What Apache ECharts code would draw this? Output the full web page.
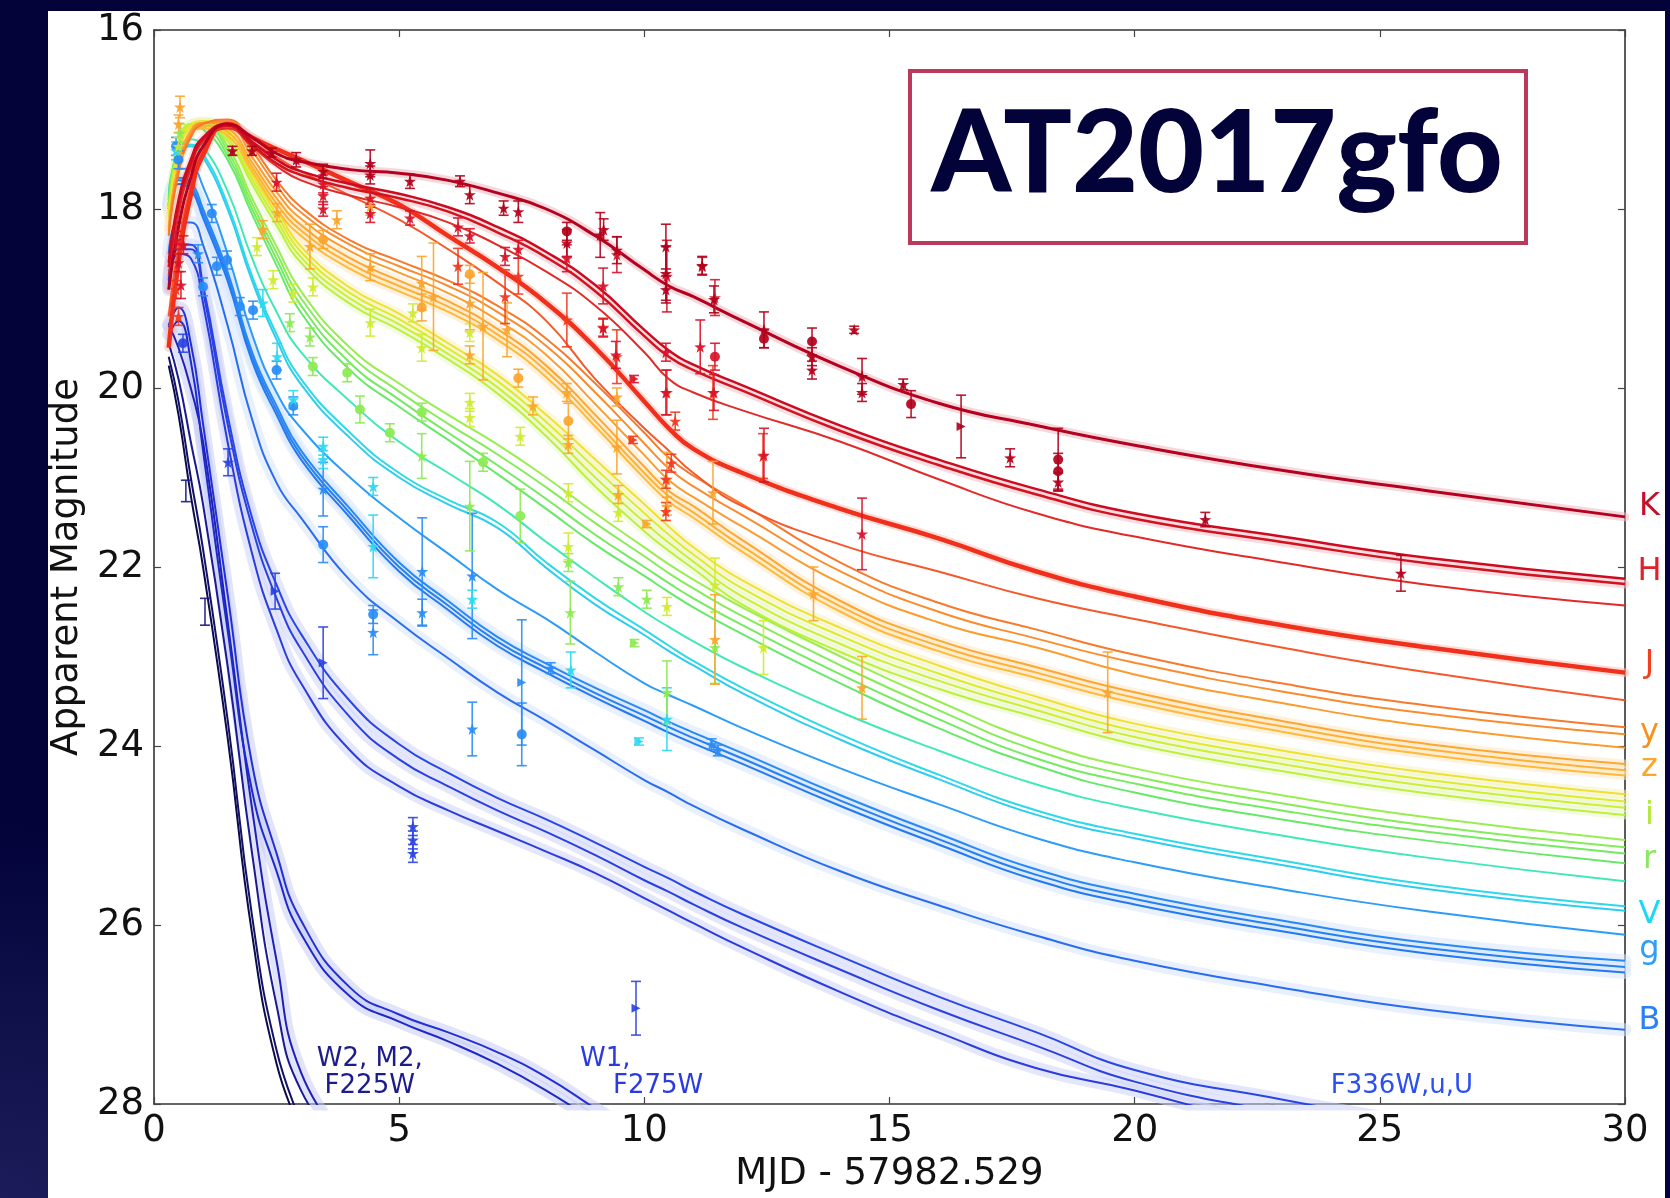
<!DOCTYPE html>
<html><head><meta charset="utf-8">
<script src="https://cdn.jsdelivr.net/npm/echarts/dist/echarts.min.js"></script>
<style>
html,body{margin:0;padding:0;width:1670px;height:1198px;overflow:hidden;background:#03033a;}
#glow{position:absolute;left:0;top:0;width:1670px;height:1198px;background:radial-gradient(ellipse at 0% 100%, #1c1c5a 0%, rgba(3,3,58,0) 22%);}
#panel{position:absolute;left:48px;top:11px;width:1617px;height:1187px;background:#fff;}
#chart{position:absolute;left:0;top:0;width:1670px;height:1198px;}
</style></head><body>
<div id="glow"></div><div id="panel"></div><div id="chart"></div>
<script>
// ---------- time grid (days) ----------
const T = [0.3,0.5,0.75,1,1.5,2,2.5,3,4,5,6,7,8,9,10,10.5,11,12,14,16,18,20,23,26,30];
// ---------- model light curves (apparent magnitude at each T) ----------
const modelK  = [18.9,18.2,17.65,17.3,17.05,17.2,17.38,17.47,17.56,17.6,17.68,17.82,18.0,18.3,18.68,18.86,18.98,19.25,19.76,20.17,20.42,20.64,20.92,21.15,21.44];
const modelH1 = [18.6,17.9,17.45,17.2,17.05,17.25,17.45,17.58,17.72,17.83,17.98,18.2,18.48,18.85,19.35,19.58,19.74,19.97,20.42,20.8,21.13,21.4,21.66,21.9,22.13];
const modelH2 = [18.65,17.95,17.5,17.22,17.07,17.28,17.49,17.62,17.77,17.88,18.03,18.26,18.54,18.92,19.42,19.65,19.8,20.03,20.48,20.86,21.19,21.46,21.72,21.96,22.19];
const modelH3 = [18.75,18.05,17.55,17.25,17.1,17.3,17.52,17.68,17.85,17.98,18.15,18.4,18.7,19.08,19.6,19.9,20.05,20.25,20.6,21.02,21.4,21.66,21.95,22.2,22.43];
const modelJ1 = [19.55,18.6,17.85,17.4,17.05,17.2,17.33,17.45,17.7,17.95,18.3,18.65,19.05,19.55,20.15,20.45,20.68,20.95,21.35,21.68,22.05,22.33,22.65,22.9,23.18];
const modelJ2 = [19.2,18.4,17.75,17.35,17.08,17.25,17.42,17.58,17.85,18.12,18.45,18.82,19.25,19.9,20.45,20.7,20.95,21.32,21.75,22.05,22.35,22.58,22.9,23.18,23.49];
const modelY1 = [18.3,17.6,17.2,17.05,17.0,17.3,17.68,17.98,18.35,18.58,18.8,19.08,19.45,19.95,20.5,20.78,20.98,21.3,21.95,22.4,22.7,22.98,23.3,23.55,23.79];
const modelY2 = [18.28,17.57,17.18,17.04,17.02,17.35,17.74,18.04,18.4,18.64,18.86,19.15,19.53,20.05,20.62,20.9,21.1,21.42,22.05,22.5,22.8,23.07,23.39,23.64,23.87];
const modelY3 = [18.25,17.55,17.15,17.04,17.05,17.42,17.81,18.11,18.47,18.71,18.94,19.24,19.63,20.18,20.75,21.03,21.22,21.55,22.18,22.62,22.9,23.2,23.52,23.78,24.02];
const modelZ1 = [18.2,17.5,17.12,17.04,17.1,17.48,17.88,18.18,18.55,18.8,19.03,19.34,19.75,20.3,20.88,21.15,21.32,21.7,22.38,22.82,23.12,23.4,23.72,23.98,24.2];
const modelZ2 = [18.22,17.52,17.14,17.07,17.14,17.53,17.94,18.24,18.61,18.86,19.09,19.4,19.81,20.37,20.95,21.21,21.39,21.77,22.44,22.88,23.18,23.46,23.78,24.04,24.27];
const modelZ3 = [18.24,17.55,17.16,17.1,17.18,17.58,18.0,18.3,18.67,18.92,19.15,19.46,19.88,20.43,21.01,21.27,21.45,21.83,22.5,22.94,23.24,23.52,23.84,24.1,24.33];
const modelI1 = [18.1,17.38,17.08,17.02,17.12,17.56,18.0,18.42,18.88,19.17,19.5,19.85,20.3,20.8,21.3,21.55,21.78,22.15,22.68,23.1,23.45,23.75,24.05,24.3,24.54];
const modelI2 = [18.08,17.35,17.06,17.02,17.16,17.62,18.06,18.48,18.94,19.23,19.56,19.92,20.38,20.9,21.4,21.64,21.86,22.24,22.77,23.19,23.53,23.83,24.13,24.38,24.62];
const modelI3 = [18.06,17.33,17.05,17.03,17.2,17.67,18.12,18.54,19.0,19.29,19.62,19.99,20.46,21.0,21.5,21.73,21.94,22.33,22.86,23.27,23.6,23.9,24.2,24.45,24.69];
const modelI4 = [18.04,17.31,17.05,17.05,17.24,17.72,18.18,18.6,19.06,19.35,19.68,20.06,20.54,21.1,21.6,21.82,22.02,22.42,22.95,23.36,23.68,23.98,24.28,24.53,24.77];
const modelR1 = [18.0,17.3,17.05,17.03,17.3,17.88,18.42,18.92,19.55,19.95,20.3,20.63,21.0,21.4,21.78,21.97,22.14,22.45,23.0,23.5,23.95,24.25,24.55,24.8,25.05];
const modelR2 = [17.98,17.28,17.05,17.05,17.35,17.94,18.49,19.0,19.63,20.04,20.4,20.74,21.11,21.51,21.88,22.07,22.24,22.55,23.1,23.6,24.05,24.34,24.64,24.89,25.13];
const modelR3 = [17.96,17.27,17.06,17.08,17.4,18.0,18.56,19.08,19.72,20.13,20.5,20.86,21.24,21.64,22.0,22.18,22.35,22.65,23.2,23.7,24.14,24.42,24.72,24.96,25.2];
const modelR4 = [17.95,17.26,17.07,17.11,17.45,18.06,18.63,19.16,19.8,20.21,20.58,20.96,21.35,21.75,22.1,22.28,22.45,22.75,23.3,23.8,24.22,24.52,24.82,25.06,25.31];
const modelTeal = [17.8,17.35,17.22,17.3,17.8,18.55,19.15,19.6,20.15,20.6,20.95,21.3,21.72,22.12,22.5,22.67,22.83,23.12,23.62,24.05,24.43,24.7,25.0,25.25,25.51];
const modelV1 = [17.85,17.4,17.28,17.38,17.95,18.75,19.4,19.9,20.5,20.95,21.25,21.5,21.95,22.35,22.7,22.88,23.05,23.35,23.87,24.32,24.72,24.98,25.28,25.55,25.79];
const modelV2 = [17.87,17.42,17.3,17.42,18.0,18.8,19.46,19.96,20.56,21.0,21.3,21.56,22.01,22.42,22.76,22.94,23.1,23.41,23.93,24.37,24.77,25.03,25.33,25.6,25.84];
const modelGL = [17.9,17.55,17.55,17.75,18.5,19.4,20.05,20.45,21.0,21.45,21.85,22.25,22.58,22.95,23.3,23.43,23.55,23.8,24.25,24.65,25.03,25.3,25.6,25.85,26.11];
const modelG1 = [17.95,17.65,17.7,18.0,18.7,19.6,20.2,20.7,21.35,21.95,22.38,22.78,23.08,23.35,23.6,23.73,23.85,24.08,24.55,24.98,25.38,25.65,25.95,26.2,26.4];
const modelG2 = [17.97,17.68,17.74,18.05,18.75,19.65,20.25,20.75,21.4,22.0,22.43,22.83,23.13,23.41,23.66,23.79,23.91,24.14,24.61,25.04,25.44,25.71,26.01,26.26,26.47];
const modelG3 = [18.0,17.72,17.78,18.1,18.8,19.7,20.3,20.8,21.45,22.05,22.48,22.88,23.18,23.46,23.72,23.85,23.97,24.2,24.67,25.1,25.5,25.77,26.07,26.32,26.53];
const modelB  = [18.5,18.15,18.15,18.4,19.3,20.35,21.06,21.45,22.15,22.62,23.02,23.4,23.72,24.05,24.38,24.52,24.67,24.93,25.4,25.78,26.12,26.4,26.7,26.95,27.17];
const modelU1 = [18.8,18.4,18.4,18.85,20.3,21.45,22.2,22.75,23.5,23.98,24.3,24.58,24.82,25.08,25.35,25.48,25.62,25.88,26.35,26.8,27.2,27.62,27.95,28.25,28.7];
const modelU2 = [18.85,18.45,18.45,18.92,20.4,21.55,22.35,22.92,23.68,24.15,24.45,24.72,24.96,25.22,25.5,25.63,25.77,26.03,26.5,26.95,27.35,27.75,28.1,28.4,null];
const modelU3 = [18.9,18.5,18.55,19.05,20.6,21.85,22.7,23.3,24.05,24.45,24.72,24.95,25.18,25.42,25.7,25.84,25.98,26.25,26.75,27.2,27.6,27.85,28.3,null,null];
const modelW1a = [19.3,19.1,19.5,20.4,22.3,24.2,25.2,25.95,26.7,27.0,27.2,27.42,27.7,28.05,28.4,null,null,null,null,null,null,null,null,null,null];
const modelW1b = [19.4,19.25,19.7,20.7,22.7,24.5,25.4,26.1,26.8,27.08,27.3,27.55,27.85,28.2,null,null,null,null,null,null,null,null,null,null,null];
const modelF225W = [19.3,19.55,20.0,20.6,22.6,24.7,26.4,27.65,28.5,null,null,null,null,null,null,null,null,null,null,null,null,null,null,null,null];
const modelM2  = [19.5,19.9,20.6,21.3,23.1,25.2,26.9,27.85,28.6,null,null,null,null,null,null,null,null,null,null,null,null,null,null,null,null];
const modelW2b = [19.65,20.15,21.0,21.8,23.7,25.9,27.4,28.2,null,null,null,null,null,null,null,null,null,null,null,null,null,null,null,null,null];
const modelW2a = [19.75,20.3,21.2,22.0,23.9,26.1,27.55,28.3,null,null,null,null,null,null,null,null,null,null,null,null,null,null,null,null,null];

// ---------- observations: [days, magnitude, error, source code] ----------
const obsK = [[1.6,17.35,0.05,'s'],[2.0,17.35,0.05,'s'],[2.4,17.37,0.05,'s'],[2.9,17.45,0.08,'s'],[3.45,17.58,0.08,'s'],[4.41,17.49,0.15,'s'],[4.41,17.62,0.1,'s'],[5.22,17.69,0.08,'s'],[6.24,17.69,0.06,'s'],[6.44,17.84,0.1,'s'],[7.13,17.99,0.08,'s'],[7.43,18.03,0.12,'s'],[8.42,18.38,0.15,'s'],[8.42,18.25,0.1,'c'],[9.17,18.23,0.12,'s'],[9.44,18.46,0.15,'s'],[9.1,18.29,0.25,'s'],[10.44,18.42,0.25,'s'],[10.44,18.72,0.3,'s'],[10.44,18.9,0.15,'s'],[11.18,18.63,0.1,'s'],[11.42,19.01,0.15,'s'],[12.44,19.35,0.2,'s'],[12.44,19.45,0.1,'c'],[13.42,19.48,0.15,'c'],[13.42,19.65,0.1,'s'],[13.42,19.8,0.1,'s'],[14.28,19.35,0.04,'s'],[14.44,19.87,0.2,'s'],[14.44,20.05,0.1,'s'],[15.28,19.96,0.06,'s'],[15.44,20.18,0.15,'c'],[16.46,20.43,0.35,'t'],[17.46,20.78,0.1,'s'],[18.44,20.8,0.35,'c'],[18.44,20.93,0.2,'c'],[18.44,21.05,0.1,'s'],[21.44,21.47,0.08,'s'],[25.43,22.07,0.2,'s']];
const obsH = [[0.45,18.35,0.1,'s'],[0.5,18.6,0.1,'s'],[0.55,18.85,0.15,'s'],[0.6,18.4,0.1,'s'],[2.5,17.7,0.1,'s'],[3.45,17.72,0.1,'s'],[3.45,17.85,0.1,'s'],[3.45,18.0,0.08,'s'],[4.41,17.88,0.1,'s'],[4.41,18.05,0.1,'s'],[5.22,18.1,0.08,'s'],[6.2,18.2,0.1,'s'],[6.44,18.3,0.08,'s'],[7.16,18.53,0.1,'s'],[7.43,18.45,0.1,'s'],[8.42,18.55,0.15,'s'],[9.16,18.86,0.2,'s'],[9.44,18.51,0.2,'s'],[10.46,18.75,0.4,'s'],[11.18,18.64,0.1,'s'],[11.44,18.99,0.2,'s'],[9.16,19.33,0.1,'s'],[9.42,19.63,0.15,'s'],[10.44,19.6,0.1,'s'],[10.44,20.05,0.25,'s'],[11.14,19.54,0.3,'s'],[11.44,19.65,0.15,'c'],[11.42,20.05,0.2,'s'],[12.44,20.75,0.3,'s'],[14.44,21.63,0.4,'s'],[9.79,19.9,0.04,'t']];
const obsJ = [[0.45,18.9,0.1,'s'],[0.5,19.2,0.1,'s'],[6.2,18.64,0.2,'s'],[7.16,18.98,0.3,'s'],[7.43,18.75,0.2,'s'],[8.42,19.24,0.3,'s'],[9.16,19.32,0.1,'s'],[9.44,19.65,0.3,'s'],[9.77,20.58,0.04,'t'],[10.46,20.05,0.25,'s'],[10.63,20.37,0.1,'s'],[10.55,20.84,0.1,'s'],[10.44,21.02,0.1,'s'],[10.44,21.38,0.1,'s'],[11.4,20.05,0.3,'s'],[12.42,20.76,0.25,'s']];
const obsYZ = [[0.53,16.86,0.12,'s'],[0.5,17.05,0.1,'s'],[2.22,18.23,0.1,'s'],[2.51,18.04,0.1,'s'],[3.18,18.42,0.25,'s'],[3.45,18.34,0.1,'c'],[3.73,18.12,0.1,'s'],[4.41,17.97,0.1,'s'],[4.41,18.65,0.15,'s'],[5.46,18.83,0.3,'s'],[5.46,19.1,0.15,'c'],[5.7,18.98,0.6,'s'],[6.44,18.73,0.1,'c'],[6.44,19.05,0.3,'s'],[6.71,19.31,0.6,'s'],[6.44,19.63,0.1,'s'],[7.2,19.35,0.3,'s'],[7.43,19.89,0.1,'c'],[7.73,20.2,0.1,'s'],[8.42,20.05,0.1,'s'],[8.45,20.37,0.2,'c'],[8.45,20.63,0.1,'s'],[9.44,20.1,0.1,'s'],[9.44,20.66,0.3,'s'],[9.47,21.19,0.1,'s'],[10.05,21.52,0.04,'t'],[10.46,21.02,0.3,'s'],[10.46,21.32,0.1,'s'],[11.4,21.17,0.35,'s'],[11.44,22.81,0.5,'s'],[13.45,22.3,0.3,'s'],[14.44,23.35,0.35,'s'],[19.45,23.4,0.45,'s']];
const obsI = [[0.5,17.3,0.1,'s'],[2.1,18.42,0.1,'s'],[2.43,18.79,0.1,'s'],[2.84,18.94,0.1,'s'],[3.24,18.87,0.1,'s'],[4.41,19.27,0.15,'s'],[5.28,19.16,0.1,'s'],[6.44,19.38,0.1,'s'],[5.46,19.55,0.15,'s'],[6.44,20.16,0.1,'s'],[6.44,20.33,0.1,'s'],[7.47,20.54,0.1,'s'],[8.45,21.17,0.1,'s'],[9.47,21.39,0.1,'s'],[10.46,22.44,0.1,'s'],[11.44,22.2,0.3,'s'],[12.43,22.9,0.3,'s'],[8.45,21.77,0.15,'s']];
const obsR = [[0.53,17.15,0.1,'s'],[2.77,19.27,0.1,'s'],[3.18,19.43,0.1,'s'],[3.24,19.76,0.1,'c'],[3.94,19.83,0.1,'c'],[4.2,20.24,0.15,'c'],[4.81,20.5,0.1,'c'],[5.46,20.27,0.1,'c'],[5.46,20.76,0.25,'s'],[6.71,20.83,0.1,'c'],[6.44,21.32,0.5,'s'],[7.47,21.43,0.3,'c'],[8.45,21.95,0.1,'s'],[9.47,22.22,0.1,'s'],[10.05,22.36,0.1,'s'],[8.49,22.51,0.35,'s'],[10.46,23.4,0.35,'s'],[9.8,22.85,0.04,'t'],[11.44,22.9,0.4,'s']];
const obsV = [[0.45,17.35,0.1,'s'],[2.22,19.05,0.15,'s'],[2.51,19.65,0.15,'s'],[2.84,20.13,0.1,'s'],[3.45,20.65,0.1,'s'],[3.45,20.8,0.1,'s'],[4.47,21.1,0.1,'s'],[4.47,21.77,0.35,'s'],[6.49,22.36,0.1,'s'],[8.5,23.15,0.2,'s'],[10.46,23.7,0.35,'s'],[9.89,23.95,0.04,'t']];
const obsG = [[0.45,17.3,0.1,'c'],[0.5,17.45,0.1,'c'],[1.18,18.05,0.1,'c'],[1.28,18.64,0.1,'c'],[1.49,18.57,0.1,'c'],[1.75,19.09,0.1,'c'],[2.02,19.13,0.1,'c'],[2.5,19.8,0.1,'c'],[2.84,20.2,0.1,'c'],[3.45,21.13,0.3,'s'],[3.45,21.75,0.2,'c'],[4.47,22.53,0.1,'c'],[4.47,22.73,0.25,'s'],[5.47,22.05,0.6,'s'],[5.47,22.51,0.15,'s'],[6.49,22.1,0.7,'s'],[6.49,23.81,0.3,'s'],[7.5,23.29,0.7,'t'],[7.5,23.87,0.35,'c'],[8.09,23.13,0.06,'s'],[11.37,23.98,0.06,'s'],[11.5,24.05,0.06,'s'],[0.9,18.5,0.1,'s'],[1.0,18.87,0.1,'c']];
const obsU = [[0.59,19.5,0.1,'c'],[1.51,20.83,0.15,'s'],[2.47,22.27,0.2,'t'],[3.45,23.07,0.4,'t'],[5.28,24.9,0.1,'s'],[5.28,25.05,0.1,'s'],[5.28,25.2,0.1,'s'],[9.83,26.93,0.3,'t']];
const obsW = [[0.65,21.15,0.12,'i'],[1.04,22.5,0.15,'i']];

// ---------- text content ----------
const bandNames = ['K','H','J','y','z','i','r','V','g','B'];
const bandLabelMag = [21.33,22.05,23.08,23.85,24.24,24.78,25.27,25.88,26.28,27.07];
const xTitle = 'MJD - 57982.529';
const yTitle = 'Apparent Magnitude';
const titleText = 'AT2017gfo';
const notes = [['W2, M2,',4.4,27.5],['F225W',4.4,27.8],['W1,',8.69,27.5],['F275W',9.36,27.8],['F336W,u,U',24.0,27.8]];

// ---------- styles (kept apart from the data) ----------
const FONT = 'DejaVu Sans';
const modelList = [
  [modelW2a,'#0b0b4e',2,null],[modelW2b,'#12126a',2,null],[modelM2,'#1a1a94',2,null],[modelF225W,'#2020b8',2,'#c8cdf4'],
  [modelW1a,'#2230d6',2,'#c6ccf4'],[modelW1b,'#1e2ac8',2,'#c6ccf4'],
  [modelU1,'#2846e6',2,'#cdd3f7'],[modelU2,'#2a40e0',2,'#cdd3f7'],[modelU3,'#2a3cdc',2,'#cdd3f7'],
  [modelB,'#2a6cf0',2,'#d6e4fc'],[modelG3,'#2478f0',2,'#d6e6fc'],[modelG2,'#2680f2',2,'#d6e6fc'],[modelG1,'#2888f4',2,'#d6e6fc'],[modelGL,'#2c9cf8',2,null],
  [modelV2,'#2ccdf0',2,null],[modelV1,'#30d8e8',2,null],[modelTeal,'#40e8b8',2,null],
  [modelR4,'#66e868',2,null],[modelR3,'#74ea60',2,null],[modelR2,'#84ec58',2,null],[modelR1,'#98ee50',2,null],
  [modelI4,'#bdf03c',2,'#eaf8c8'],[modelI3,'#ccee34',2,'#eaf8c8'],[modelI2,'#e0ea2c',2,'#eaf8c8'],[modelI1,'#f0e030',2,'#f6f2c0'],
  [modelZ3,'#feba38',2,'#fde8c4'],[modelZ2,'#fdb236',2,'#fde8c4'],[modelZ1,'#fca733',2,'#fde8c4'],
  [modelY3,'#fb9c30',2,null],[modelY2,'#f98c2e',2,null],[modelY1,'#f77a2c',2,null],
  [modelJ2,'#f5582a',2,null],[modelJ1,'#f0301c',4.5,'#fbc0b4'],
  [modelH3,'#e22a28',2,null],[modelH2,'#d3121f',2.5,'#f4c0c4'],[modelH1,'#cc0a20',2.5,null],
  [modelK,'#b5001f',3,'#ecb8c0']
];
const obsList = [
  [obsW,'#1a1a86'],[obsU,'#2a44e2'],[obsG,'#2a8cf6'],[obsV,'#2ed8f0'],[obsR,'#8cea52'],[obsI,'#cfec30'],
  [obsYZ,'#fba52e'],[obsJ,'#f23a20'],[obsH,'#d8142a'],[obsK,'#b3001c']
];
const bandColors = ['#c4102a','#e2202c','#f2401e','#f9901e','#fba72a','#b4e83a','#8ce862','#1ed8f2','#2e9ef8','#2a80f6'];
const noteColors = ['#1c1c8c','#1c1c8c','#2a3ce0','#2a3ce0','#2c50f0'];
const STAR = 'path://M50,0 L61.8,35.1 L98.9,35.5 L69.1,57.7 L79.4,93.1 L50,71.5 L20.6,93.1 L30.9,57.7 L1.1,35.5 L38.2,35.1 Z';
const TRI = 'path://M0,0 L10,5 L0,10 Z';
const SYM = {s:STAR, c:'circle', t:TRI, i:'none'};
const SIZE = {s:12, c:10, t:9, i:1};
const SMOOTH = 0.5;

const series = [];
function pairs(mags){ const out=[]; T.forEach((t,i)=>{ if(mags[i]!=null) out.push([t,mags[i]]); }); return out; }
modelList.forEach(([m,color,w,band])=>{
  if(band){
    series.push({type:'line',data:pairs(m),showSymbol:false,smooth:SMOOTH,clip:true,silent:true,z:1,
      lineStyle:{color:band,width:band.startsWith('#c')||band.startsWith('#d')?13:9,opacity:0.55,cap:'round'}});
  }
});
modelList.forEach(([m,color,w])=>{
  series.push({type:'line',data:pairs(m),showSymbol:false,smooth:SMOOTH,clip:true,silent:true,z:2,
    lineStyle:{color:color,width:w}});
});
obsList.forEach(([pts,color])=>{
  series.push({type:'custom',clip:true,silent:true,z:3,data:pts.map(p=>[p[0],p[1],p[2]]),encode:{x:0,y:1},
    renderItem:(params,api)=>{
      const x=api.value(0),y=api.value(1),e=api.value(2);
      const a=api.coord([x,y-e]),b=api.coord([x,y+e]);const w=5;
      const st={stroke:color,lineWidth:1.6,opacity:0.9};
      return {type:'group',children:[
        {type:'line',shape:{x1:a[0],y1:a[1],x2:b[0],y2:b[1]},style:st},
        {type:'line',shape:{x1:a[0]-w,y1:a[1],x2:a[0]+w,y2:a[1]},style:st},
        {type:'line',shape:{x1:b[0]-w,y1:b[1],x2:b[0]+w,y2:b[1]},style:st}]};
    }});
  series.push({type:'scatter',clip:true,silent:true,z:4,
    data:pts.map(p=>({value:[p[0],p[1]],symbol:SYM[p[3]],symbolSize:SIZE[p[3]]})),
    itemStyle:{color:color,opacity:0.92}});
});

const chart = echarts.init(document.getElementById('chart'),null,{renderer:'canvas'});
const axisCommon = {axisLine:{show:true,onZero:false,lineStyle:{color:'#333',width:1.6}},
  axisTick:{show:true,inside:true,length:7,lineStyle:{color:'#444',width:1.2}},splitLine:{show:false}};
chart.setOption({
  animation:false,
  backgroundColor:'transparent',
  grid:{left:154,right:45,top:30,bottom:92,containLabel:false},
  xAxis:[
    Object.assign({type:'value',min:0,max:30,interval:5,position:'bottom',
      axisLabel:{fontSize:37,color:'#111',margin:9,fontFamily:FONT},
      name:xTitle,nameLocation:'middle',nameGap:52,nameTextStyle:{fontSize:37,color:'#111',fontFamily:FONT}},axisCommon),
    Object.assign({type:'value',min:0,max:30,interval:5,position:'top',axisLabel:{show:false}},axisCommon)
  ],
  yAxis:[
    Object.assign({type:'value',min:16,max:28,interval:2,inverse:true,position:'left',
      axisLabel:{fontSize:37,color:'#111',margin:10,fontFamily:FONT},
      name:yTitle,nameLocation:'middle',nameGap:68,nameRotate:90,nameTextStyle:{fontSize:37,color:'#111',fontFamily:FONT}},axisCommon),
    Object.assign({type:'value',min:16,max:28,interval:2,inverse:true,position:'right',axisLabel:{show:false}},axisCommon)
  ],
  series:series
});

const px = (t,m)=>chart.convertToPixel({xAxisIndex:0,yAxisIndex:0},[t,m]);
const graphics = [];
bandNames.forEach((n,i)=>{
  const p = px(30.5,bandLabelMag[i]);
  graphics.push({type:'text',x:p[0],y:p[1],z:10,style:{text:n,fill:bandColors[i],font:'32px "DejaVu Sans"',textAlign:'center',textVerticalAlign:'middle'}});
});
notes.forEach(([txt,t,m],i)=>{
  const p = px(t,m);
  const center = i<2;
  graphics.push({type:'text',x:p[0],y:p[1],z:10,style:{text:txt,fill:noteColors[i],font:'26px "DejaVu Sans"',textAlign:center?'center':'left',textVerticalAlign:'middle'}});
});
graphics.push({type:'rect',shape:{x:910,y:71,width:616,height:172},z:20,style:{fill:'#ffffff',stroke:'#bb3a5c',lineWidth:4}});
graphics.push({type:'text',x:1217,y:155,z:21,style:{text:titleText,fill:'#03033a',font:'900 114px Lato',textAlign:'center',textVerticalAlign:'middle'}});
chart.setOption({graphic:graphics});
</script></body></html>
